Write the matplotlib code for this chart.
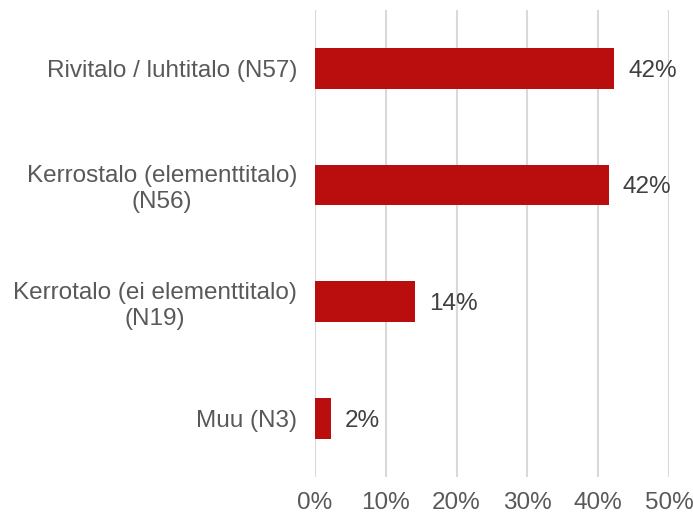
import matplotlib.pyplot as plt

plt.rcParams['font.family'] = ['Liberation Sans', 'DejaVu Sans']

categories = [
    "Rivitalo / luhtitalo (N57)",
    "Kerrostalo (elementtitalo)\n(N56)",
    "Kerrotalo (ei elementtitalo)\n(N19)",
    "Muu (N3)",
]
counts = [57, 56, 19, 3]
value_labels = ["42%", "42%", "14%", "2%"]
total = sum(counts)
shares = [c / total * 100 for c in counts]
xticks = [0, 10, 20, 30, 40, 50]

fig = plt.figure(figsize=(6.93, 5.14), dpi=100)
ax = fig.add_axes([0.4545, 0.072, 0.511, 0.909])

y = list(range(len(categories)))
ax.barh(y, shares, height=0.35, color="#BA0E0E", zorder=3)
for yi, v, lab in zip(y, shares, value_labels):
    ax.text(v + 2.0, yi, lab, va="center_baseline", ha="left",
            fontsize=17.5, color="#404040")

ax.set_ylim(3.5, -0.5)
ax.set_xlim(0, 50)
ax.set_xticks(xticks)
ax.set_xticklabels([f"{t}%" for t in xticks])
ax.set_yticks(y)
ax.set_yticklabels(categories, ha="right", multialignment="center")
ax.tick_params(axis="y", length=0, pad=13, labelsize=17.5, labelcolor="#595959")
ax.tick_params(axis="x", length=0, pad=11, labelsize=17.5, labelcolor="#595959")
ax.grid(axis="x", color="#D9D9D9", linewidth=1.5, zorder=0)
for s in ax.spines.values():
    s.set_visible(False)

fig.savefig("out.png", dpi=100)
